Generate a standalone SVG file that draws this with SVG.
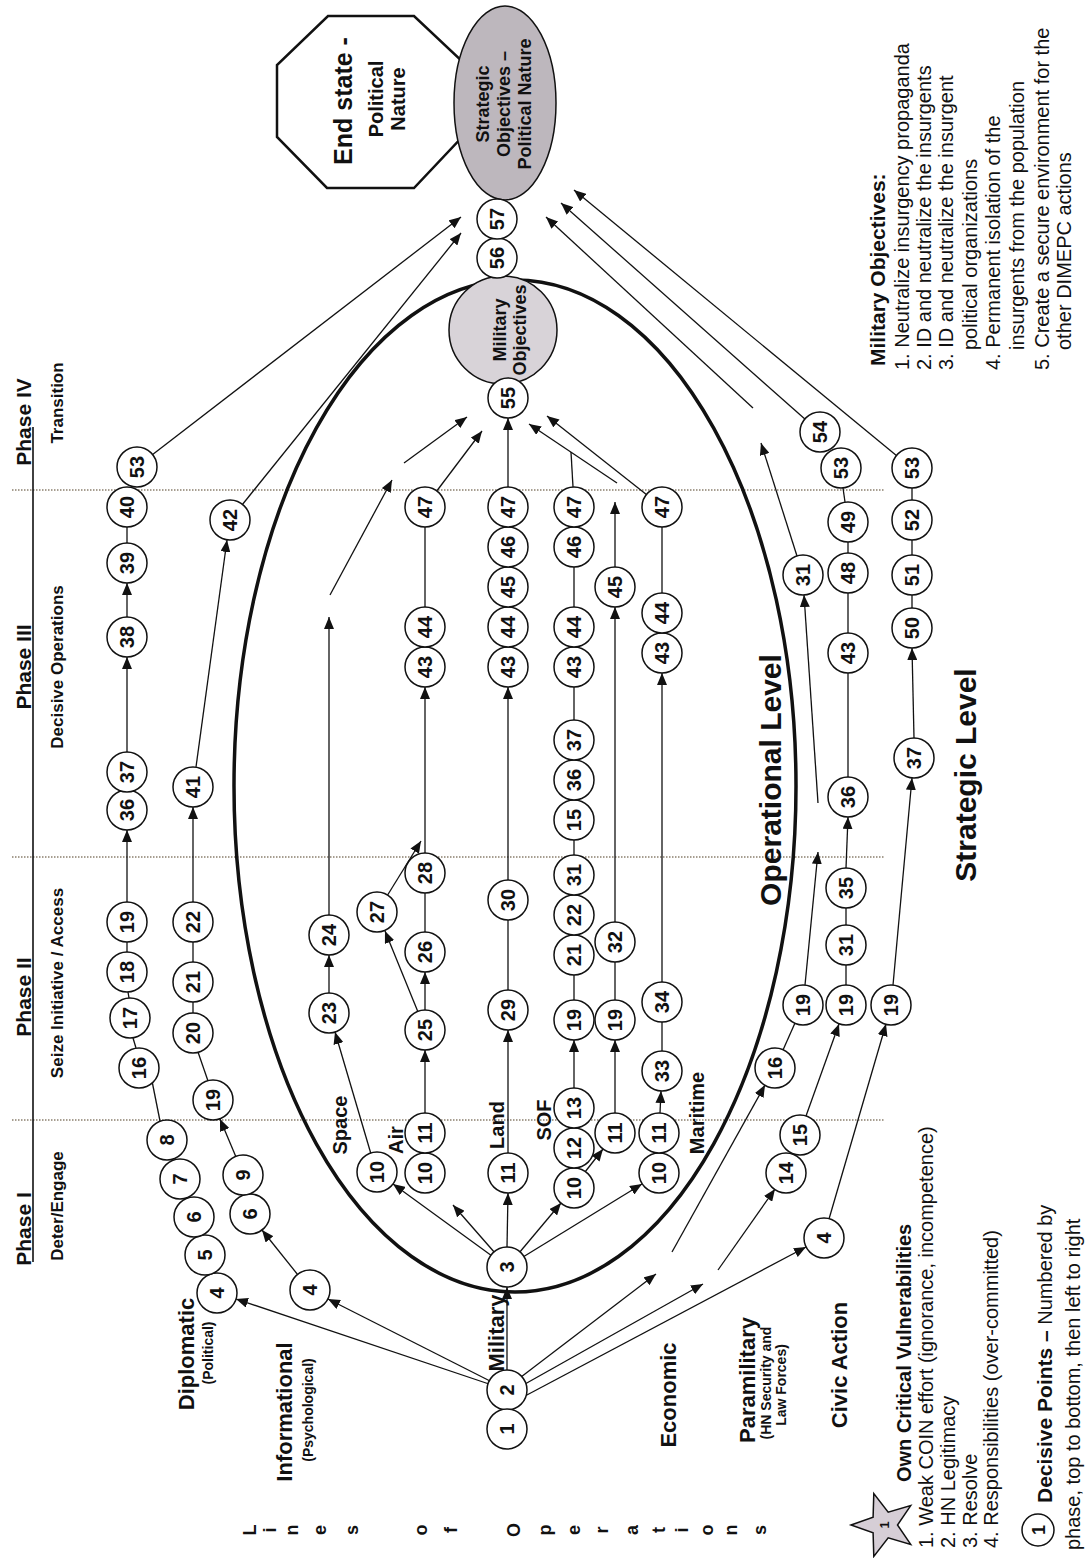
<svg xmlns="http://www.w3.org/2000/svg" width="1092" height="1558" viewBox="0 0 1092 1558">
<defs>
<marker id="ah" viewBox="0 0 12 10" refX="12" refY="5" markerWidth="12" markerHeight="10" markerUnits="userSpaceOnUse" orient="auto"><path d="M0,0 L12,5 L0,10 z" fill="#111"/></marker>
</defs>
<style>
text{font-family:"Liberation Sans",Arial,sans-serif;fill:#111}
.node circle{fill:#fff;stroke:#111;stroke-width:1.5}
.node text{font-size:20px;font-weight:bold;text-anchor:middle}
.conn line{stroke:#111;stroke-width:1.3;fill:none}
.conn .a{marker-end:url(#ah)}
.dot{stroke:#8a7f6e;stroke-width:1.3;stroke-dasharray:1.5 1.5}
.b{font-weight:bold}
.m{text-anchor:middle}
.h1{font-size:21px;font-weight:bold;text-anchor:middle}
.h2{font-size:17px;font-weight:bold;text-anchor:middle}
.lb{font-size:22px;font-weight:bold;text-anchor:middle}
.ls{font-size:14px;font-weight:bold;text-anchor:middle}
.sub{font-size:20px;font-weight:bold;text-anchor:middle}
.big{font-size:30px;font-weight:bold;text-anchor:middle}
.lst{font-size:20px}
.let{font-size:18px;font-weight:bold;text-anchor:middle}
</style>
<rect width="1092" height="1558" fill="#fff"/>

<g id="phase-grid">
<line class="dot" x1="12" y1="490" x2="885" y2="490"/>
<line class="dot" x1="12" y1="857" x2="885" y2="857"/>
<line class="dot" x1="12" y1="1120" x2="885" y2="1120"/>
<line x1="33" y1="427" x2="33" y2="1262" stroke="#111" stroke-width="1.6"/>
</g>

<g id="operational-level"><ellipse cx="515" cy="786" rx="281" ry="506" fill="none" stroke="#111" stroke-width="3.5"/></g>

<g id="end-state"><polygon points="328,16 414,16 464,63 464,135 414,188 327,188 277,137 277,65" fill="#fff" stroke="#111" stroke-width="2.5"/></g>
<g id="strategic-objectives"><ellipse cx="505" cy="103" rx="51" ry="97" fill="#bdb7bd" stroke="#111" stroke-width="1.5"/></g>
<g id="military-objectives"><circle cx="503" cy="330" r="54" fill="#d8d3d8" stroke="#111" stroke-width="1.5"/></g>

<g id="connectors" class="conn">
<line class="a" x1="489" y1="1384" x2="236" y2="1299"/>
<line class="a" x1="490" y1="1381" x2="328" y2="1299"/>
<line class="a" x1="507" y1="1370" x2="507" y2="1287"/>
<line class="a" x1="521" y1="1377" x2="656" y2="1274"/>
<line class="a" x1="525" y1="1384" x2="703" y2="1284"/>
<line class="a" x1="525" y1="1396" x2="806" y2="1247"/>
<line class="a" x1="672" y1="1252" x2="765" y2="1085"/>
<line class="a" x1="718" y1="1270" x2="775" y2="1189"/>
<line class="a" x1="492" y1="1256" x2="393" y2="1184"/>
<line class="a" x1="495" y1="1253" x2="453" y2="1205"/>
<line class="a" x1="507" y1="1247" x2="508" y2="1193"/>
<line class="a" x1="519" y1="1253" x2="561" y2="1203"/>
<line class="a" x1="523" y1="1257" x2="642" y2="1184"/>
<line class="a" x1="371" y1="1154" x2="335" y2="1032"/>
<line class="a" x1="329" y1="993" x2="329" y2="955"/>
<line class="a" x1="329" y1="915" x2="329" y2="617"/>
<line class="a" x1="330" y1="595" x2="392" y2="480"/>
<line class="a" x1="404" y1="463" x2="467" y2="417"/>
<line class="a" x1="425" y1="1113" x2="425" y2="1050"/>
<line class="a" x1="425" y1="1010" x2="425" y2="972"/>
<line class="a" x1="418" y1="1012" x2="385" y2="931"/>
<line x1="425" y1="932" x2="425" y2="893"/>
<line class="a" x1="425" y1="853" x2="425" y2="687"/>
<line class="a" x1="387" y1="896" x2="421" y2="841"/>
<line x1="425" y1="607" x2="425" y2="527"/>
<line class="a" x1="436" y1="492" x2="482" y2="431"/>
<line class="a" x1="508" y1="1153" x2="508" y2="1030"/>
<line x1="508" y1="990" x2="508" y2="920"/>
<line class="a" x1="508" y1="880" x2="508" y2="687"/>
<line class="a" x1="508" y1="487" x2="508" y2="418"/>
<line class="a" x1="574" y1="1088" x2="574" y2="1040"/>
<line x1="574" y1="1000" x2="574" y2="975"/>
<line x1="574" y1="855" x2="574" y2="840"/>
<line x1="574" y1="720" x2="574" y2="687"/>
<line x1="574" y1="607" x2="574" y2="567"/>
<line x1="573" y1="487" x2="571" y2="452"/>
<line class="a" x1="585" y1="1172" x2="603" y2="1149"/>
<line class="a" x1="615" y1="1113" x2="615" y2="1040"/>
<line x1="615" y1="1000" x2="615" y2="962"/>
<line class="a" x1="615" y1="922" x2="615" y2="607"/>
<line class="a" x1="615" y1="567" x2="615" y2="502"/>
<line class="a" x1="617" y1="483" x2="529" y2="424"/>
<line class="a" x1="660" y1="1113" x2="661" y2="1091"/>
<line x1="662" y1="1051" x2="662" y2="1022"/>
<line class="a" x1="662" y1="982" x2="662" y2="673"/>
<line x1="662" y1="593" x2="662" y2="527"/>
<line class="a" x1="647" y1="495" x2="547" y2="416"/>
<line x1="783" y1="1050" x2="795" y2="1023"/>
<line class="a" x1="805" y1="985" x2="818" y2="852"/>
<line class="a" x1="818" y1="803" x2="804" y2="595"/>
<line class="a" x1="797" y1="556" x2="761" y2="443"/>
<line class="a" x1="753" y1="408" x2="546" y2="217"/>
<line class="a" x1="806" y1="1116" x2="839" y2="1024"/>
<line x1="846" y1="985" x2="846" y2="965"/>
<line x1="846" y1="925" x2="846" y2="908"/>
<line class="a" x1="846" y1="868" x2="848" y2="817"/>
<line x1="848" y1="777" x2="848" y2="673"/>
<line x1="848" y1="633" x2="848" y2="593"/>
<line x1="848" y1="553" x2="848" y2="542"/>
<line x1="845" y1="502" x2="843" y2="488"/>
<line class="a" x1="806" y1="420" x2="561" y2="203"/>
<line class="a" x1="829" y1="1219" x2="886" y2="1024"/>
<line class="a" x1="893" y1="985" x2="912" y2="778"/>
<line class="a" x1="914" y1="738" x2="912" y2="648"/>
<line x1="912" y1="608" x2="912" y2="595"/>
<line x1="912" y1="555" x2="912" y2="540"/>
<line x1="912" y1="500" x2="912" y2="488"/>
<line class="a" x1="897" y1="456" x2="574" y2="190"/>
<line x1="160" y1="1121" x2="146" y2="1051"/>
<line x1="136" y1="1048" x2="133" y2="1038"/>
<line x1="129" y1="998" x2="128" y2="992"/>
<line x1="127" y1="952" x2="127" y2="942"/>
<line class="a" x1="127" y1="902" x2="127" y2="830"/>
<line class="a" x1="127" y1="752" x2="127" y2="657"/>
<line class="a" x1="127" y1="617" x2="127" y2="583"/>
<line x1="127" y1="543" x2="127" y2="527"/>
<line class="a" x1="152" y1="455" x2="461" y2="217"/>
<line class="a" x1="298" y1="1275" x2="262" y2="1230"/>
<line class="a" x1="236" y1="1157" x2="220" y2="1119"/>
<line x1="208" y1="1081" x2="198" y2="1052"/>
<line x1="193" y1="1013" x2="193" y2="1002"/>
<line x1="193" y1="962" x2="193" y2="942"/>
<line class="a" x1="193" y1="902" x2="193" y2="807"/>
<line class="a" x1="196" y1="767" x2="227" y2="540"/>
<line class="a" x1="242" y1="505" x2="461" y2="233"/>
</g>

<g id="nodes">
<g id="n-d4" class="node" transform="translate(217,1293)"><circle r="20"/><text transform="rotate(-90)" y="7">4</text></g>
<g id="n-d5" class="node" transform="translate(205,1255)"><circle r="20"/><text transform="rotate(-90)" y="7">5</text></g>
<g id="n-d6" class="node" transform="translate(194,1217)"><circle r="20"/><text transform="rotate(-90)" y="7">6</text></g>
<g id="n-d7" class="node" transform="translate(180,1179)"><circle r="20"/><text transform="rotate(-90)" y="7">7</text></g>
<g id="n-d8" class="node" transform="translate(167,1140)"><circle r="20"/><text transform="rotate(-90)" y="7">8</text></g>
<g id="n-d16" class="node" transform="translate(139,1068)"><circle r="20"/><text transform="rotate(-90)" y="7">16</text></g>
<g id="n-d17" class="node" transform="translate(130,1018)"><circle r="20"/><text transform="rotate(-90)" y="7">17</text></g>
<g id="n-d18" class="node" transform="translate(127,972)"><circle r="20"/><text transform="rotate(-90)" y="7">18</text></g>
<g id="n-d19" class="node" transform="translate(127,922)"><circle r="20"/><text transform="rotate(-90)" y="7">19</text></g>
<g id="n-d36" class="node" transform="translate(127,810)"><circle r="20"/><text transform="rotate(-90)" y="7">36</text></g>
<g id="n-d37" class="node" transform="translate(127,772)"><circle r="20"/><text transform="rotate(-90)" y="7">37</text></g>
<g id="n-d38" class="node" transform="translate(127,637)"><circle r="20"/><text transform="rotate(-90)" y="7">38</text></g>
<g id="n-d39" class="node" transform="translate(127,563)"><circle r="20"/><text transform="rotate(-90)" y="7">39</text></g>
<g id="n-d40" class="node" transform="translate(127,507)"><circle r="20"/><text transform="rotate(-90)" y="7">40</text></g>
<g id="n-d53" class="node" transform="translate(137,467)"><circle r="20"/><text transform="rotate(-90)" y="7">53</text></g>

<g id="n-i4" class="node" transform="translate(310,1290)"><circle r="20"/><text transform="rotate(-90)" y="7">4</text></g>
<g id="n-i6" class="node" transform="translate(250,1214)"><circle r="20"/><text transform="rotate(-90)" y="7">6</text></g>
<g id="n-i9" class="node" transform="translate(243,1175)"><circle r="20"/><text transform="rotate(-90)" y="7">9</text></g>
<g id="n-i19" class="node" transform="translate(213,1100)"><circle r="20"/><text transform="rotate(-90)" y="7">19</text></g>
<g id="n-i20" class="node" transform="translate(193,1033)"><circle r="20"/><text transform="rotate(-90)" y="7">20</text></g>
<g id="n-i21" class="node" transform="translate(193,982)"><circle r="20"/><text transform="rotate(-90)" y="7">21</text></g>
<g id="n-i22" class="node" transform="translate(193,922)"><circle r="20"/><text transform="rotate(-90)" y="7">22</text></g>
<g id="n-i41" class="node" transform="translate(193,787)"><circle r="20"/><text transform="rotate(-90)" y="7">41</text></g>
<g id="n-i42" class="node" transform="translate(230,520)"><circle r="20"/><text transform="rotate(-90)" y="7">42</text></g>

<g id="n-s10" class="node" transform="translate(377,1172)"><circle r="20"/><text transform="rotate(-90)" y="7">10</text></g>
<g id="n-s23" class="node" transform="translate(329,1013)"><circle r="20"/><text transform="rotate(-90)" y="7">23</text></g>
<g id="n-s24" class="node" transform="translate(329,935)"><circle r="20"/><text transform="rotate(-90)" y="7">24</text></g>

<g id="n-a10" class="node" transform="translate(425,1173)"><circle r="20"/><text transform="rotate(-90)" y="7">10</text></g>
<g id="n-a11" class="node" transform="translate(425,1133)"><circle r="20"/><text transform="rotate(-90)" y="7">11</text></g>
<g id="n-a25" class="node" transform="translate(425,1030)"><circle r="20"/><text transform="rotate(-90)" y="7">25</text></g>
<g id="n-a26" class="node" transform="translate(425,952)"><circle r="20"/><text transform="rotate(-90)" y="7">26</text></g>
<g id="n-a27" class="node" transform="translate(377,912)"><circle r="20"/><text transform="rotate(-90)" y="7">27</text></g>
<g id="n-a28" class="node" transform="translate(425,873)"><circle r="20"/><text transform="rotate(-90)" y="7">28</text></g>
<g id="n-a43" class="node" transform="translate(425,667)"><circle r="20"/><text transform="rotate(-90)" y="7">43</text></g>
<g id="n-a44" class="node" transform="translate(425,627)"><circle r="20"/><text transform="rotate(-90)" y="7">44</text></g>
<g id="n-a47" class="node" transform="translate(425,507)"><circle r="20"/><text transform="rotate(-90)" y="7">47</text></g>

<g id="n-l11" class="node" transform="translate(508,1173)"><circle r="20"/><text transform="rotate(-90)" y="7">11</text></g>
<g id="n-l29" class="node" transform="translate(508,1010)"><circle r="20"/><text transform="rotate(-90)" y="7">29</text></g>
<g id="n-l30" class="node" transform="translate(508,900)"><circle r="20"/><text transform="rotate(-90)" y="7">30</text></g>
<g id="n-l43" class="node" transform="translate(508,667)"><circle r="20"/><text transform="rotate(-90)" y="7">43</text></g>
<g id="n-l44" class="node" transform="translate(508,627)"><circle r="20"/><text transform="rotate(-90)" y="7">44</text></g>
<g id="n-l45" class="node" transform="translate(508,587)"><circle r="20"/><text transform="rotate(-90)" y="7">45</text></g>
<g id="n-l46" class="node" transform="translate(508,547)"><circle r="20"/><text transform="rotate(-90)" y="7">46</text></g>
<g id="n-l47" class="node" transform="translate(508,507)"><circle r="20"/><text transform="rotate(-90)" y="7">47</text></g>

<g id="n-u10" class="node" transform="translate(574,1188)"><circle r="20"/><text transform="rotate(-90)" y="7">10</text></g>
<g id="n-u12" class="node" transform="translate(574,1148)"><circle r="20"/><text transform="rotate(-90)" y="7">12</text></g>
<g id="n-u13" class="node" transform="translate(574,1108)"><circle r="20"/><text transform="rotate(-90)" y="7">13</text></g>
<g id="n-u19" class="node" transform="translate(574,1020)"><circle r="20"/><text transform="rotate(-90)" y="7">19</text></g>
<g id="n-u21" class="node" transform="translate(574,955)"><circle r="20"/><text transform="rotate(-90)" y="7">21</text></g>
<g id="n-u22" class="node" transform="translate(574,915)"><circle r="20"/><text transform="rotate(-90)" y="7">22</text></g>
<g id="n-u31" class="node" transform="translate(574,875)"><circle r="20"/><text transform="rotate(-90)" y="7">31</text></g>
<g id="n-u15" class="node" transform="translate(574,820)"><circle r="20"/><text transform="rotate(-90)" y="7">15</text></g>
<g id="n-u36" class="node" transform="translate(574,780)"><circle r="20"/><text transform="rotate(-90)" y="7">36</text></g>
<g id="n-u37" class="node" transform="translate(574,740)"><circle r="20"/><text transform="rotate(-90)" y="7">37</text></g>
<g id="n-u43" class="node" transform="translate(574,667)"><circle r="20"/><text transform="rotate(-90)" y="7">43</text></g>
<g id="n-u44" class="node" transform="translate(574,627)"><circle r="20"/><text transform="rotate(-90)" y="7">44</text></g>
<g id="n-u46" class="node" transform="translate(574,547)"><circle r="20"/><text transform="rotate(-90)" y="7">46</text></g>
<g id="n-u47" class="node" transform="translate(574,507)"><circle r="20"/><text transform="rotate(-90)" y="7">47</text></g>

<g id="n-w11" class="node" transform="translate(615,1133)"><circle r="20"/><text transform="rotate(-90)" y="7">11</text></g>
<g id="n-w19" class="node" transform="translate(615,1020)"><circle r="20"/><text transform="rotate(-90)" y="7">19</text></g>
<g id="n-w32" class="node" transform="translate(615,942)"><circle r="20"/><text transform="rotate(-90)" y="7">32</text></g>
<g id="n-w45" class="node" transform="translate(615,587)"><circle r="20"/><text transform="rotate(-90)" y="7">45</text></g>

<g id="n-m10" class="node" transform="translate(659,1173)"><circle r="20"/><text transform="rotate(-90)" y="7">10</text></g>
<g id="n-m11" class="node" transform="translate(659,1133)"><circle r="20"/><text transform="rotate(-90)" y="7">11</text></g>
<g id="n-m33" class="node" transform="translate(662,1071)"><circle r="20"/><text transform="rotate(-90)" y="7">33</text></g>
<g id="n-m34" class="node" transform="translate(662,1002)"><circle r="20"/><text transform="rotate(-90)" y="7">34</text></g>
<g id="n-m43" class="node" transform="translate(662,653)"><circle r="20"/><text transform="rotate(-90)" y="7">43</text></g>
<g id="n-m44" class="node" transform="translate(662,613)"><circle r="20"/><text transform="rotate(-90)" y="7">44</text></g>
<g id="n-m47" class="node" transform="translate(662,507)"><circle r="20"/><text transform="rotate(-90)" y="7">47</text></g>

<g id="n-3" class="node" transform="translate(507,1267)"><circle r="20"/><text transform="rotate(-90)" y="7">3</text></g>
<g id="n-2" class="node" transform="translate(507,1390)"><circle r="20"/><text transform="rotate(-90)" y="7">2</text></g>
<g id="n-1" class="node" transform="translate(507,1429)"><circle r="20"/><text transform="rotate(-90)" y="7">1</text></g>

<g id="n-e16" class="node" transform="translate(775,1068)"><circle r="20"/><text transform="rotate(-90)" y="7">16</text></g>
<g id="n-e19" class="node" transform="translate(803,1005)"><circle r="20"/><text transform="rotate(-90)" y="7">19</text></g>
<g id="n-e31" class="node" transform="translate(803,575)"><circle r="20"/><text transform="rotate(-90)" y="7">31</text></g>

<g id="n-p14" class="node" transform="translate(786,1173)"><circle r="20"/><text transform="rotate(-90)" y="7">14</text></g>
<g id="n-p15" class="node" transform="translate(800,1135)"><circle r="20"/><text transform="rotate(-90)" y="7">15</text></g>
<g id="n-p19" class="node" transform="translate(846,1005)"><circle r="20"/><text transform="rotate(-90)" y="7">19</text></g>
<g id="n-p31" class="node" transform="translate(846,945)"><circle r="20"/><text transform="rotate(-90)" y="7">31</text></g>
<g id="n-p35" class="node" transform="translate(846,888)"><circle r="20"/><text transform="rotate(-90)" y="7">35</text></g>
<g id="n-p36" class="node" transform="translate(848,797)"><circle r="20"/><text transform="rotate(-90)" y="7">36</text></g>
<g id="n-p43" class="node" transform="translate(848,653)"><circle r="20"/><text transform="rotate(-90)" y="7">43</text></g>
<g id="n-p48" class="node" transform="translate(848,573)"><circle r="20"/><text transform="rotate(-90)" y="7">48</text></g>
<g id="n-p49" class="node" transform="translate(848,522)"><circle r="20"/><text transform="rotate(-90)" y="7">49</text></g>
<g id="n-p53" class="node" transform="translate(841,468)"><circle r="20"/><text transform="rotate(-90)" y="7">53</text></g>
<g id="n-p54" class="node" transform="translate(820,432)"><circle r="20"/><text transform="rotate(-90)" y="7">54</text></g>

<g id="n-c4" class="node" transform="translate(824,1238)"><circle r="20"/><text transform="rotate(-90)" y="7">4</text></g>
<g id="n-c19" class="node" transform="translate(891,1005)"><circle r="20"/><text transform="rotate(-90)" y="7">19</text></g>
<g id="n-c37" class="node" transform="translate(914,758)"><circle r="20"/><text transform="rotate(-90)" y="7">37</text></g>
<g id="n-c50" class="node" transform="translate(912,628)"><circle r="20"/><text transform="rotate(-90)" y="7">50</text></g>
<g id="n-c51" class="node" transform="translate(912,575)"><circle r="20"/><text transform="rotate(-90)" y="7">51</text></g>
<g id="n-c52" class="node" transform="translate(912,520)"><circle r="20"/><text transform="rotate(-90)" y="7">52</text></g>
<g id="n-c53" class="node" transform="translate(912,468)"><circle r="20"/><text transform="rotate(-90)" y="7">53</text></g>

<g id="n-55" class="node" transform="translate(508,398)"><circle r="20"/><text transform="rotate(-90)" y="7">55</text></g>
<g id="n-56" class="node" transform="translate(497,258)"><circle r="20"/><text transform="rotate(-90)" y="7">56</text></g>
<g id="n-57" class="node" transform="translate(497,219)"><circle r="20"/><text transform="rotate(-90)" y="7">57</text></g>
</g>

<g id="legend-icons">
<polygon points="851,1525 873.1,1517.1 873.8,1493.6 888.2,1512.2 910.7,1505.6 897.5,1525 910.7,1544.4 888.2,1537.8 873.8,1556.4 873.1,1532.9" fill="#d6ced6" stroke="#111" stroke-width="1.5"/>
<text transform="translate(884,1525) rotate(-90)" y="5" class="m b" font-size="13">1</text>
<circle cx="1038" cy="1530" r="16" fill="#fff" stroke="#111" stroke-width="1.5"/>
<text transform="translate(1038,1530) rotate(-90)" y="6.5" class="m b" font-size="18">1</text>
</g>

<g id="labels" transform="rotate(-90)">
<text class="h1" x="-422" y="31">Phase IV</text>
<text class="h1" x="-667" y="31">Phase III</text>
<text class="h1" x="-997" y="31">Phase II</text>
<text class="h1" x="-1229" y="31">Phase I</text>
<text class="h2" x="-403" y="63">Transition</text>
<text class="h2" x="-667" y="63">Decisive Operations</text>
<text class="h2" x="-983" y="63">Seize Initiative / Access</text>
<text class="h2" x="-1206" y="63">Deter/Engage</text>

<text class="lb" x="-1354" y="194">Diplomatic</text>
<text class="ls" x="-1353" y="213">(Political)</text>
<text class="lb" x="-1412" y="292">Informational</text>
<text class="ls" x="-1410" y="313">(Psychological)</text>
<text class="lb" x="-1333" y="504">Military</text>
<text class="lb" x="-1395" y="676">Economic</text>
<text class="lb" x="-1380" y="755">Paramilitary</text>
<text class="ls" x="-1383" y="771">(HN Security and</text>
<text class="ls" x="-1385" y="786">Law Forces)</text>
<text class="lb" x="-1365" y="847">Civic Action</text>

<text class="sub" x="-1125" y="347">Space</text>
<text class="sub" font-size="19" x="-1140" y="403">Air</text>
<text class="sub" x="-1125" y="504">Land</text>
<text class="sub" x="-1120" y="551">SOF</text>
<text class="sub" x="-1113" y="704">Maritime</text>

<text class="big" x="-780" y="781">Operational Level</text>
<text class="big" x="-775" y="976">Strategic Level</text>

<text class="m b" font-size="25" x="-101" y="352">End state -</text>
<text class="m b" font-size="20" x="-99" y="383">Political</text>
<text class="m b" font-size="20" x="-99" y="405">Nature</text>

<text class="m b" font-size="18" x="-104" y="489">Strategic</text>
<text class="m b" font-size="18" x="-104" y="510">Objectives –</text>
<text class="m b" font-size="18" x="-104" y="531">Political Nature</text>

<text class="m b" font-size="18" x="-330" y="506">Military</text>
<text class="m b" font-size="18" x="-330" y="526">Objectives</text>

<text class="b" font-size="21" x="-366" y="885">Military Objectives:</text>
<text class="lst" x="-370" y="909">1. Neutralize insurgency propaganda</text>
<text class="lst" x="-370" y="931">2. ID and neutralize the insurgents</text>
<text class="lst" x="-370" y="953">3. ID and neutralize the insurgent</text>
<text class="lst" x="-350" y="977">political organizations</text>
<text class="lst" x="-370" y="1000">4. Permanent isolation of the</text>
<text class="lst" x="-350" y="1024">insurgents from the population</text>
<text class="lst" x="-370" y="1049">5. Create a secure environment for the</text>
<text class="lst" x="-350" y="1071">other DIMEPC actions</text>

<text class="b" font-size="20" x="-1482" y="911">Own Critical Vulnerabilities</text>
<text class="lst" x="-1548" y="933">1. Weak COIN effort (ignorance, incompetence)</text>
<text class="lst" x="-1548" y="955">2. HN Legitimacy</text>
<text class="lst" x="-1548" y="977">3. Resolve</text>
<text class="lst" x="-1548" y="998">4. Responsibilities (over-committed)</text>

<text class="lst" x="-1503" y="1052"><tspan class="b" font-size="21">Decisive Points –</tspan> Numbered by</text>
<text class="lst" x="-1550" y="1080">phase, top to bottom, then left to right</text>

<g id="lines-of-operations" class="let">
<text x="-1530" y="256">L</text>
<text x="-1530" y="276">i</text>
<text x="-1530" y="298">n</text>
<text x="-1530" y="326">e</text>
<text x="-1530" y="358">s</text>
<text x="-1530" y="427">o</text>
<text x="-1530" y="457">f</text>
<text x="-1530" y="520">O</text>
<text x="-1530" y="551">p</text>
<text x="-1530" y="580">e</text>
<text x="-1530" y="608">r</text>
<text x="-1530" y="638">a</text>
<text x="-1530" y="665">t</text>
<text x="-1530" y="688">i</text>
<text x="-1530" y="713">o</text>
<text x="-1530" y="737">n</text>
<text x="-1530" y="766">s</text>
</g>
</g>
</svg>
